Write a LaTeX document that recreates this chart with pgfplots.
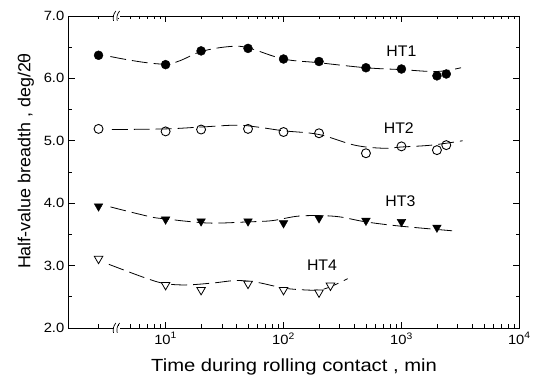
\documentclass[border=0pt]{standalone}
\usepackage{fontspec}
\setmainfont{Liberation Sans}[FakeStretch=1.1]
\newfontfamily\xlabfont{Liberation Sans}[FakeStretch=1.15]
\newfontfamily\ylabfont{Liberation Sans}[FakeStretch=1.03]
\usepackage{pgfplots}
\pgfplotsset{compat=1.18}
\tikzset{htlab/.style={font=\ylabfont\fontsize{15.5}{18}\selectfont}}
\begin{document}
\begin{tikzpicture}
\begin{axis}[
  name=ax,
  width=452bp, height=313bp, scale only axis,
  xmode=log, log basis x=10,
  xmin=1.51, xmax=10000, ymin=2, ymax=7,
  clip=false,
  axis line style={line width=0.9bp},
  every tick/.style={black, line width=0.7bp},
  tick align=inside,
  major tick length=6bp, minor tick length=3.5bp,
  xtick={10,100,1000,10000},
  xticklabels={10\textsuperscript{1},10\textsuperscript{2},10\textsuperscript{3},10\textsuperscript{4}},
  minor xtick={2.7,4,5,6,7,8,9,20,30,40,50,60,70,80,90,200,300,400,500,600,700,800,900,2000,3000,4000,5000,6000,7000,8000,9000},
  ytick={2,3,4,5,6,7},
  yticklabels={2.0,3.0,4.0,5.0,6.0,7.0},
  minor ytick={2.5,3.5,4.5,5.5,6.5},
  /pgf/number format/assume math mode=true,
  xticklabel style={font=\fontsize{13.5}{15}\selectfont, yshift=-1bp},
  yticklabel style={font=\fontsize{13.5}{15}\selectfont, xshift=-1bp},
  xlabel={Time during rolling contact , min},
  ylabel={Half-value breadth , deg/2θ},
  xlabel style={at={(axis description cs:0.5,0)}, anchor=center, yshift=-39bp, font=\xlabfont\fontsize{17.7}{20}\selectfont},
  ylabel style={at={(axis description cs:0,0.5)}, anchor=center, yshift=43bp, xshift=11bp, font=\ylabfont\fontsize{17.5}{20}\selectfont},
  curve/.style={black, line width=0.8bp, smooth, tension=0.6, dash pattern=on 16bp off 6bp, mark=none},
]
% fitted curves
\addplot[curve] coordinates {(3.4,6.35) (10,6.23) (20,6.43) (35,6.51) (50,6.49) (100,6.31) (200,6.25) (500,6.17) (1000,6.14) (2000,6.11) (3200,6.17)};
\addplot[curve] coordinates {(3.5,5.18) (10,5.19) (20,5.22) (40,5.25) (60,5.22) (100,5.16) (200,5.10) (400,4.93) (700,4.88) (1000,4.90) (1800,4.93) (3300,5.00)};
\addplot[curve] coordinates {(3.4,3.94) (7.5,3.78) (10,3.75) (15,3.71) (25,3.68) (50,3.70) (80,3.72) (130,3.79) (200,3.80) (300,3.78) (500,3.70) (1000,3.63) (3000,3.55)};
\addplot[curve] coordinates {(3.3,3.02) (7,2.79) (10,2.71) (15,2.69) (25,2.72) (40,2.76) (60,2.73) (100,2.64) (150,2.61) (200,2.61) (250,2.66) (350,2.79)};
% data points
\addplot[only marks, mark=*, mark size=4.5bp, black] coordinates {(2.7,6.37) (10,6.22) (20,6.44) (50,6.48) (100,6.31) (200,6.27) (500,6.17) (1000,6.15) (2000,6.04) (2400,6.07)};
\addplot[only marks, mark=o, mark size=4.5bp, black, mark options={fill=white, line width=0.9bp}] coordinates {(2.7,5.19) (10,5.15) (20,5.18) (50,5.19) (100,5.14) (200,5.12) (500,4.80) (1000,4.91) (2000,4.85) (2400,4.93)};
\addplot[only marks, mark=triangle*, mark size=5bp, black, mark options={rotate=180}] coordinates {(2.7,3.95) (10,3.74) (20,3.71) (50,3.71) (100,3.68) (200,3.76) (500,3.72) (1000,3.70) (2000,3.61)};
\addplot[only marks, mark=triangle*, mark size=5bp, black, mark options={rotate=180, fill=white, line width=0.8bp}] coordinates {(2.7,3.11) (10,2.69) (20,2.61) (50,2.71) (100,2.61) (200,2.57) (250,2.68)};
% labels
\node[htlab] at (axis cs:1000,6.43) {HT1};
\node[htlab] at (axis cs:950,5.21) {HT2};
\node[htlab] at (axis cs:980,4.03) {HT3};
\node[htlab] at (axis cs:212,3.01) {HT4};
% axis breaks (bottom)
\fill[white] ([yshift=-2bp]axis cs:3.62,2) rectangle ([yshift=2bp]axis cs:4.08,2);
\draw[line width=0.7bp] ([xshift=-1.2bp,yshift=-5bp]axis cs:3.7,2) to[bend left=25] ([xshift=1.2bp,yshift=5bp]axis cs:3.7,2);
\draw[line width=0.7bp] ([xshift=-1.2bp,yshift=-5bp]axis cs:3.98,2) to[bend left=25] ([xshift=1.2bp,yshift=5bp]axis cs:3.98,2);
% axis breaks (top)
\fill[white] ([yshift=-2bp]axis cs:3.62,7) rectangle ([yshift=2bp]axis cs:4.08,7);
\draw[line width=0.7bp] ([xshift=-1.2bp,yshift=-5bp]axis cs:3.7,7) to[bend left=25] ([xshift=1.2bp,yshift=5bp]axis cs:3.7,7);
\draw[line width=0.7bp] ([xshift=-1.2bp,yshift=-5bp]axis cs:3.98,7) to[bend left=25] ([xshift=1.2bp,yshift=5bp]axis cs:3.98,7);
\end{axis}
\path ([xshift=-69bp,yshift=-52bp]ax.south west) rectangle ([xshift=13bp,yshift=16bp]ax.north east);
\end{tikzpicture}
\end{document}
